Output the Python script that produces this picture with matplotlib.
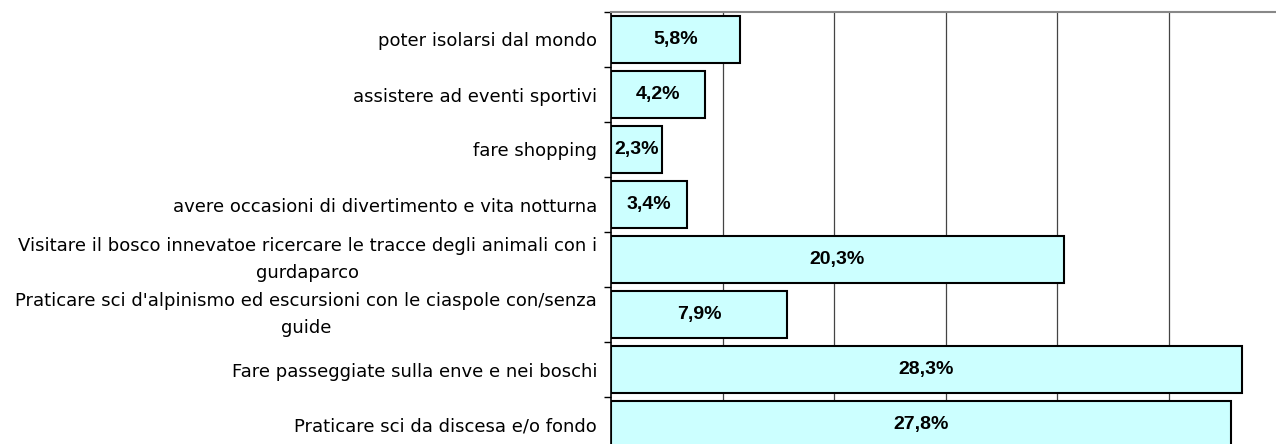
import matplotlib
matplotlib.use("Agg")
import matplotlib.pyplot as plt

# data, top to bottom
categories = [
    "poter isolarsi dal mondo",
    "assistere ad eventi sportivi",
    "fare shopping",
    "avere occasioni di divertimento e vita notturna",
    "Visitare il bosco innevatoe ricercare le tracce degli animali con i\ngurdaparco",
    "Praticare sci d'alpinismo ed escursioni con le ciaspole con/senza\nguide",
    "Fare passeggiate sulla enve e nei boschi",
    "Praticare sci da discesa e/o fondo",
]
values = [5.8, 4.2, 2.3, 3.4, 20.3, 7.9, 28.3, 27.8]
value_labels = ["5,8%", "4,2%", "2,3%", "3,4%", "20,3%", "7,9%", "28,3%", "27,8%"]

plt.rcParams["font.family"] = ["Liberation Sans", "DejaVu Sans"]

fig = plt.figure(figsize=(12.76, 4.44), dpi=100)
ax = fig.add_axes([611 / 1276, -8 / 444, 665 / 1276, 440 / 444])

pos = list(range(len(categories)))
ax.barh(pos, values, height=0.84, color="#CCFFFF", edgecolor="black", linewidth=1.5, zorder=3)
for p, v, t in zip(pos, values, value_labels):
    ax.text(v / 2, p, t, ha="center", va="center", fontsize=14, fontweight="bold", zorder=4)

ax.set_xlim(0, 665 / 22.3)
ax.set_ylim(len(categories) - 0.5, -0.5)
ax.set_xticks([5, 10, 15, 20, 25])
ax.tick_params(axis="x", length=0, labelbottom=False)
ax.grid(axis="x", color="#444444", linewidth=0.9, zorder=0)

# category labels, short ticks at the category boundaries
ax.set_yticks(pos)
ax.set_yticklabels(categories, fontsize=13, linespacing=1.7, family="DejaVu Sans")
for lab in ax.get_yticklabels():
    lab.set_horizontalalignment("right")
    lab.set_multialignment("center")
    if "\n" in lab.get_text():
        lab.set_verticalalignment("center")
ax.tick_params(axis="y", which="major", length=0, pad=10)
ax.set_yticks([p + 0.5 for p in [-1] + pos], minor=True)
ax.tick_params(axis="y", which="minor", length=5, width=1, color="black")

ax.spines["right"].set_visible(False)
ax.spines["bottom"].set_visible(False)
ax.spines["left"].set_linewidth(1.2)
ax.spines["top"].set_color("#888888")
ax.spines["top"].set_linewidth(1.5)

fig.savefig("out.png", dpi=100)
